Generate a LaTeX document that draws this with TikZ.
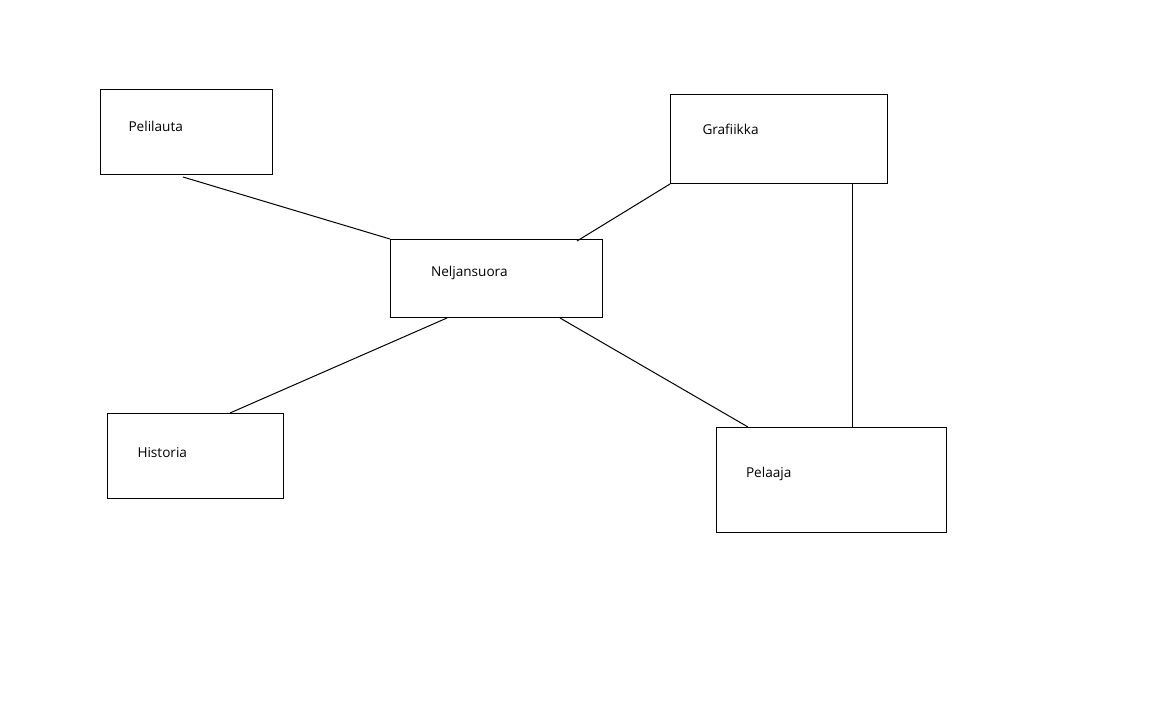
\documentclass[tikz,border=0pt]{standalone}
\usepackage{fontspec}
\setmainfont{Open Sans}
\usetikzlibrary{positioning}
\tikzstyle{box} = [rectangle,
                  draw=black,
                  line width=1pt,
                  inner sep=0pt,
                  anchor=north west]
\tikzstyle{txt} = [anchor=base west,
                  inner sep=0pt,
                  font=\fontsize{13.6}{15}\selectfont]
\tikzstyle{plan} = [x=1pt,
                   y=-1pt,
                   line width=1pt]

\begin{document}
\begin{tikzpicture}[plan]
    \useasboundingbox (0,0) rectangle (1152,720);
    \node (pelilauta) [box, minimum width=172pt, minimum height=85pt] at (100,89) {};
    \node (grafiikka) [box, minimum width=217pt, minimum height=89pt] at (670,94) {};
    \node (neljansuora) [box, minimum width=212pt, minimum height=78pt] at (390,239) {};
    \node (historia) [box, minimum width=176pt, minimum height=85pt] at (107,413) {};
    \node (pelaaja) [box, minimum width=230pt, minimum height=105pt] at (716,427) {};
    \node (pelilauta-t) [txt] at (128,131.7) {Pelilauta};
    \node (grafiikka-t) [txt] at (702,134) {Grafiikka};
    \node (neljansuora-t) [txt] at (430.5,276.7) {Neljansuora};
    \node (historia-t) [txt] at (137,457.5) {Historia};
    \node (pelaaja-t) [txt] at (745.5,477) {Pelaaja};
    \draw ([xshift=83pt, yshift=-2pt]pelilauta.south west) -- (neljansuora.north west);
    \draw (grafiikka.south west) -- ([xshift=187pt, yshift=-2pt]neljansuora.north west);
    \draw ([xshift=57pt]neljansuora.south west) -- ([xshift=123pt]historia.north west);
    \draw ([xshift=170pt]neljansuora.south west) -- ([xshift=32pt]pelaaja.north west);
    \draw ([xshift=182pt]grafiikka.south west) -- ([xshift=136pt]pelaaja.north west);
  \end{tikzpicture}
\end{document}
